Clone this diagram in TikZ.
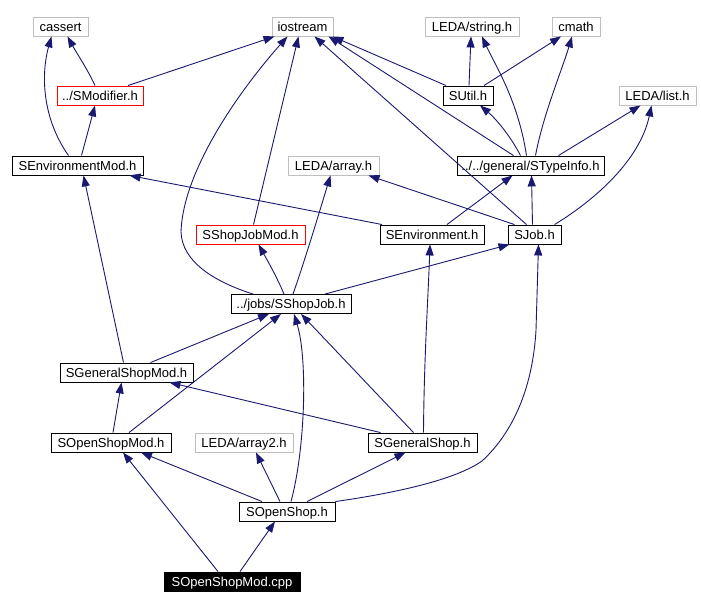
\documentclass[tikz,border=0pt]{standalone}
\usepackage{fontspec}
\setmainfont{Liberation Sans}
\usetikzlibrary{arrows.meta}
\definecolor{edgeblue}{RGB}{25,25,112}
\definecolor{extgray}{RGB}{191,191,191}
\begin{document}
\begin{tikzpicture}[x=1pt,y=-1pt,
  box/.style={draw=black, line width=0.9pt, minimum height=19pt, inner xsep=2pt, inner ysep=0pt, text height=11.5pt, text depth=1.5pt, font=\fontsize{13}{15}\selectfont, anchor=center},
  extbox/.style={box, draw=extgray},
  redbox/.style={box, draw=red},
  rootbox/.style={box, fill=black, text=white},
  edge/.style={draw=edgeblue, line width=0.9pt, -{Triangle[length=11pt,width=8pt]}, fill=none}]
\useasboundingbox (0,0) rectangle (701,609);
% nodes
\node[extbox, minimum width=55pt] (cassert) at (60.5,26.5) {cassert};
\node[extbox, minimum width=61pt] (iostream) at (302.5,26.5) {iostream};
\node[extbox, minimum width=94pt] (string) at (472,26.5) {LEDA/string.h};
\node[extbox, minimum width=48pt] (cmath) at (576,26.5) {cmath};
\node[redbox, minimum width=86pt] (smod) at (100,95.5) {../SModifier.h};
\node[box, minimum width=50pt] (sutil) at (468,95.5) {SUtil.h};
\node[extbox, minimum width=77pt] (list) at (657.5,95.5) {LEDA/list.h};
\node[box, minimum width=131pt] (envmod) at (77.5,165.5) {SEnvironmentMod.h};
\node[extbox, minimum width=91pt] (array) at (333.5,165.5) {LEDA/array.h};
\node[box, minimum width=147pt] (typeinfo) at (530.5,165.5) {../../general/STypeInfo.h};
\node[redbox, minimum width=109pt] (shopjobmod) at (250.5,234.5) {SShopJobMod.h};
\node[box, minimum width=104pt] (env) at (432,234.5) {SEnvironment.h};
\node[box, minimum width=53pt] (sjob) at (534.5,234.5) {SJob.h};
\node[box, minimum width=120pt] (shopjob) at (291,304) {../jobs/SShopJob.h};
\node[box, minimum width=133pt] (gshopmod) at (126.5,372.5) {SGeneralShopMod.h};
\node[box, minimum width=120pt] (osmod) at (111,442.5) {SOpenShopMod.h};
\node[extbox, minimum width=98pt] (array2) at (244,442.5) {LEDA/array2.h};
\node[box, minimum width=109pt] (gshop) at (422.5,442.5) {SGeneralShop.h};
\node[box, minimum width=96pt] (oshop) at (287,511.5) {SOpenShop.h};
\node[rootbox, minimum width=136pt] (cpp) at (232,581.5) {SOpenShopMod.cpp};
% edges
\draw[edge] ([xshift=-5pt]smod.north) .. controls (88,70) and (76,52) .. ([xshift=7pt]cassert.south);
\draw[edge] ([xshift=28pt]smod.north) -- ([xshift=-28pt]iostream.south);
\draw[edge] ([xshift=-9pt]envmod.north) .. controls (40,115) and (42,70) .. ([xshift=-9pt]cassert.south);
\draw[edge] ([xshift=4pt]envmod.north) -- ([xshift=-5pt]smod.south);
\draw[edge] ([xshift=-22pt]sutil.north) -- ([xshift=30pt]iostream.south);
\draw[edge] ([xshift=1pt]sutil.north) -- ([xshift=-1pt]string.south);
\draw[edge] ([xshift=16pt]sutil.north) -- ([xshift=-15pt]cmath.south);
\draw[edge] ([xshift=-17pt]typeinfo.north) -- ([xshift=26pt]iostream.south);
\draw[edge] ([xshift=-4pt]typeinfo.north) .. controls (518,100) and (495,65) .. ([xshift=10pt]string.south);
\draw[edge] ([xshift=5pt]typeinfo.north) .. controls (543,115) and (562,70) .. ([xshift=-4pt]cmath.south);
\draw[edge] ([xshift=-10pt]typeinfo.north) .. controls (510,135) and (495,118) .. ([xshift=12pt]sutil.south);
\draw[edge] ([xshift=28pt]typeinfo.north) -- ([xshift=-17pt]list.south);
\draw[edge] ([xshift=-50pt]env.north) -- ([xshift=52pt]envmod.south);
\draw[edge] ([xshift=15pt]env.north) -- ([xshift=-18pt]typeinfo.south);
\draw[edge] ([xshift=-8pt]sjob.north) -- ([xshift=12pt]iostream.south);
\draw[edge] ([xshift=-2pt]sjob.north) -- ([xshift=1pt]typeinfo.south);
\draw[edge] ([xshift=20pt]sjob.north) .. controls (595,200) and (640,160) .. ([xshift=-6pt]list.south);
\draw[edge] ([xshift=-20pt]sjob.north) -- ([xshift=35pt]array.south);
\draw[edge] ([xshift=3pt]shopjobmod.north) -- ([xshift=-4pt]iostream.south);
\draw[edge] ([xshift=-38pt]shopjob.north) .. controls (215,282) and (182,262) .. (181,232) .. controls (183,170) and (240,90) .. ([xshift=-15pt]iostream.south);
\draw[edge] ([xshift=-7pt]shopjob.north) .. controls (276,275) and (266,258) .. ([xshift=8pt]shopjobmod.south);
\draw[edge] ([xshift=2pt]shopjob.north) .. controls (305,260) and (320,210) .. ([xshift=-3pt]array.south);
\draw[edge] ([xshift=34pt]shopjob.north) -- ([xshift=-25pt]sjob.south);
\draw[edge] ([xshift=-3pt]gshopmod.north) -- ([xshift=6pt]envmod.south);
\draw[edge] ([xshift=24pt]gshopmod.north) -- ([xshift=-22pt]shopjob.south);
\draw[edge] ([xshift=2pt]osmod.north) -- ([xshift=-5pt]gshopmod.south);
\draw[edge] ([xshift=18pt]osmod.north) -- ([xshift=-10pt]shopjob.south);
\draw[edge] ([xshift=-42pt]gshop.north) -- ([xshift=43pt]gshopmod.south);
\draw[edge] ([xshift=-9pt]gshop.north) -- ([xshift=10pt]shopjob.south);
\draw[edge] ([xshift=1pt]gshop.north) .. controls (424,360) and (428,300) .. ([xshift=-2pt]env.south);
\draw[edge] ([xshift=-25pt]oshop.north) -- ([xshift=30pt]osmod.south);
\draw[edge] ([xshift=-7pt]oshop.north) -- ([xshift=12pt]array2.south);
\draw[edge] ([xshift=20pt]oshop.north) -- ([xshift=-17pt]gshop.south);
\draw[edge] ([xshift=4pt]oshop.north) .. controls (305,450) and (308,360) .. ([xshift=3pt]shopjob.south);
\draw[edge] (oshop.north east) .. controls (395,493) and (455,480) .. (482,461) .. controls (505,440) and (532,400) .. (536,330) -- ([xshift=4pt]sjob.south);
\draw[edge] ([xshift=-14pt]cpp.north) -- ([xshift=12pt]osmod.south);
\draw[edge] ([xshift=8pt]cpp.north) -- ([xshift=-12pt]oshop.south);
\end{tikzpicture}
\end{document}
